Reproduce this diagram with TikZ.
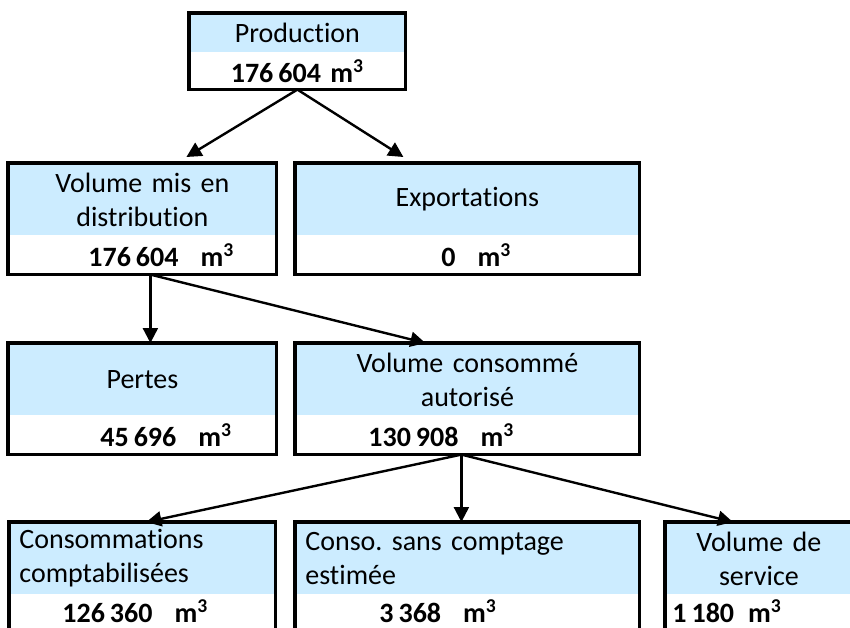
\documentclass[tikz,border=0pt]{standalone}
\usepackage{fontspec}
\setmainfont{Carlito}[Ligatures=NoCommon]
\usetikzlibrary{arrows.meta}
\definecolor{bleuclair}{RGB}{204,236,255}
\frenchspacing
\tikzset{
  titre/.style={fill=bleuclair, anchor=north west, inner xsep=5pt, inner ysep=0pt, align=center, font=\fontsize{14}{17}\selectfont},
  valeur/.style={anchor=north west, inner sep=0pt, align=left, font=\fontsize{14}{17}\selectfont\bfseries},
  cadre/.style={draw, line width=1.6pt},
  fleche/.style={-{Triangle[length=7.5pt,width=7.5pt]}, line width=1.2pt}
}

\begin{document}
\begin{tikzpicture}[x=0.5pt,y=-0.5pt]
			\useasboundingbox (0,0) rectangle (850,627);
			\clip (0,0) rectangle (850,627);
			% production
			\node[titre, text width=98pt, minimum height=19.5pt] (prod) at (189,13) {Production};
			\node[valeur, text width=108pt, minimum height=18pt, align=center] (prodv) at (prod.south west) {176\hspace{2.5pt}604 m\textsuperscript{3}};
			% second row
			\node[titre, text width=124pt, minimum height=36pt] (dist) at (8,163) {Volume mis en\\distribution};
			\node[valeur, text width=134pt, minimum height=19pt] (distv) at (dist.south west) {\hspace*{40pt}176\hspace{2.5pt}604\hspace{11pt}m\textsuperscript{3}};
			\node[titre, text width=162pt, minimum height=36pt] (export) at (295,163) {Exportations};
			\node[valeur, text width=172pt, minimum height=19pt] (exportv) at (export.south west) {\hspace*{73pt}0\hspace{11pt}m\textsuperscript{3}};
			% third row
			\node[titre, text width=124pt, minimum height=36pt] (pertes) at (8,343) {Pertes};
			\node[valeur, text width=134pt, minimum height=19pt] (pertesv) at (pertes.south west) {\hspace*{46pt}45\hspace{2.5pt}696\hspace{11pt}m\textsuperscript{3}};
			\node[titre, text width=162pt, minimum height=36pt] (vca) at (295,343) {Volume consommé\\autorisé};
			\node[valeur, text width=172pt, minimum height=19pt] (vcav) at (vca.south west) {\hspace*{36.5pt}130\hspace{2.5pt}908\hspace{11pt}m\textsuperscript{3}};
			% bottom row (cut by the page)
			\node[titre, text width=123pt, minimum height=36pt, align=left] (compt) at (9,522) {Consommations\\comptabilisées};
			\node[valeur, text width=133pt, minimum height=16pt] (comptv) at (compt.south west) {\hspace*{26.5pt}126\hspace{2.5pt}360\hspace{11pt}m\textsuperscript{3}};
			\node[titre, text width=162pt, minimum height=36pt, align=left] (conso) at (295,522) {Conso. sans comptage\\estimée};
			\node[valeur, text width=172pt, minimum height=16pt] (consov) at (conso.south west) {\hspace*{42pt}3\hspace{2.5pt}368\hspace{11pt}m\textsuperscript{3}};
			\node[titre, text width=83.5pt, minimum height=36pt] (serv) at (665,522) {Volume de\\service};
			\node[valeur, text width=93.5pt, minimum height=16pt] (servv) at (serv.south west) {\hspace*{3.5pt}1\hspace{2.5pt}180\hspace{7pt}m\textsuperscript{3}};
			% frames
			\draw [cadre] (prod.north west) rectangle (prodv.south east);
			\draw [cadre] (dist.north west) rectangle (distv.south east);
			\draw [cadre] (export.north west) rectangle (exportv.south east);
			\draw [cadre] (pertes.north west) rectangle (pertesv.south east);
			\draw [cadre] (vca.north west) rectangle (vcav.south east);
			\draw [cadre] (compt.north west) rectangle ([yshift=-3pt]comptv.south east);
			\draw [cadre] (conso.north west) rectangle ([yshift=-3pt]consov.south east);
			\draw [cadre] (serv.north west) rectangle ([yshift=-3pt]servv.south east);
			% arrows
			\draw [fleche] (prodv.south) -- ([xshift=22pt,yshift=3pt]dist.north);
			\draw [fleche] (prodv.south) -- ([xshift=-32pt,yshift=3pt]export.north);
			\draw [fleche] ([xshift=4pt]distv.south) -- ([xshift=4pt]pertes.north);
			\draw [fleche] ([xshift=4pt]distv.south) -- ([xshift=-21pt]vca.north);
			\draw [fleche] ([xshift=-3pt]vcav.south) -- ([xshift=2pt]compt.north);
			\draw [fleche] ([xshift=-3pt]vcav.south) -- ([xshift=-3pt]conso.north);
			\draw [fleche] ([xshift=-3pt]vcav.south) -- ([xshift=-13pt]serv.north);
		\end{tikzpicture}
\end{document}
